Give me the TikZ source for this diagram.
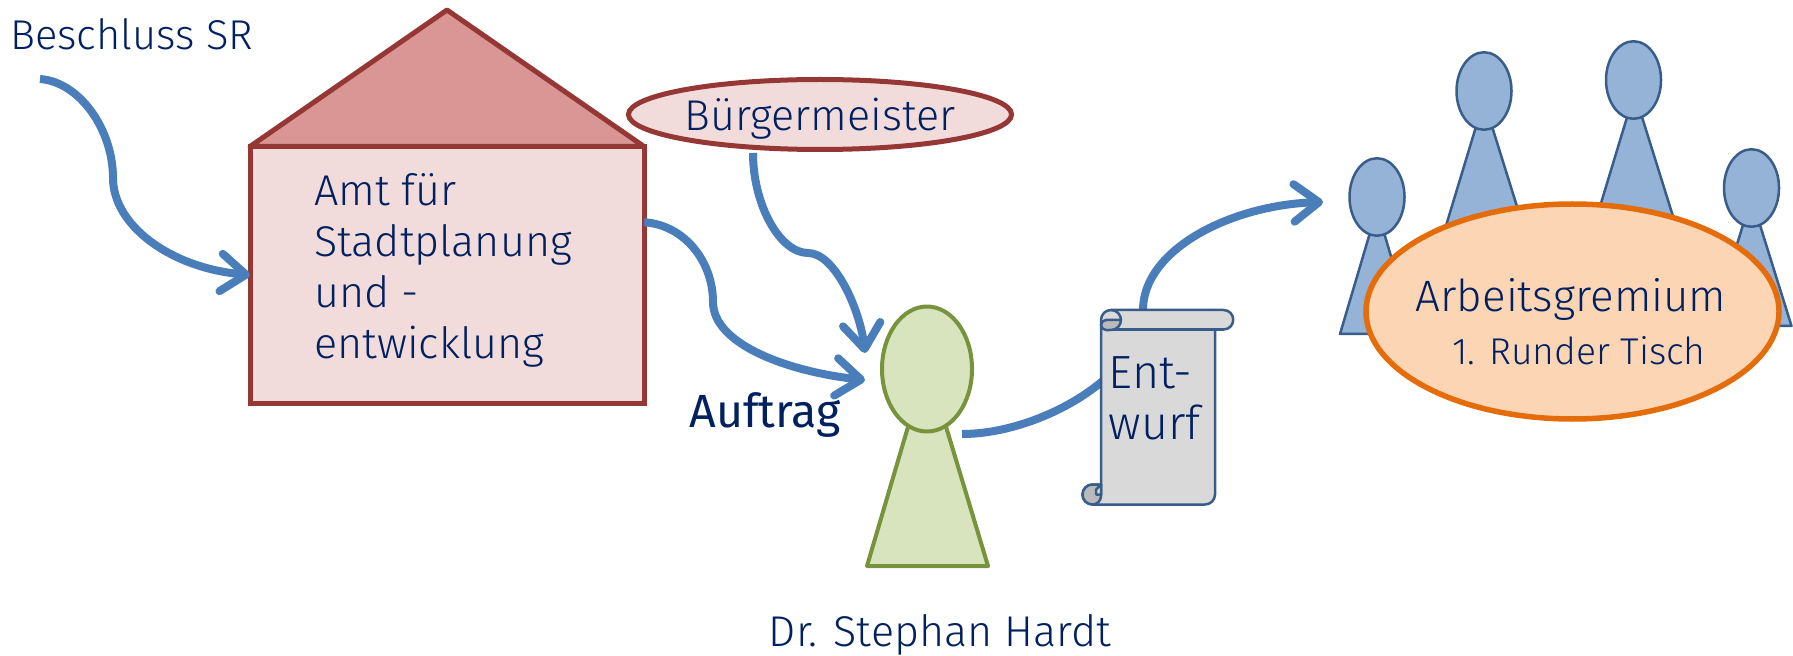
\documentclass[tikz,border=0pt]{standalone}
\usepackage{fontspec}
\setmainfont{Fira Sans Light}
\newfontfamily\auftragfont{Fira Sans}
\usetikzlibrary{arrows.meta,shapes.geometric}
\definecolor{navy}{HTML}{002060}
\definecolor{linie}{HTML}{4A7EBB}
\definecolor{rotrand}{HTML}{953735}
\definecolor{rotfill}{HTML}{F2DCDB}
\definecolor{dachfill}{HTML}{D99694}
\definecolor{gruenrand}{HTML}{77933C}
\definecolor{gruenfill}{HTML}{D7E4BD}
\definecolor{blaurand}{HTML}{385D8A}
\definecolor{blaufill}{HTML}{95B3D7}
\definecolor{orangerand}{HTML}{E46C0A}
\definecolor{orangefill}{HTML}{FCD5B5}
\begin{document}
\begin{tikzpicture}[
        txt/.style={text=navy, font=\fontsize{24.5}{29}\selectfont, inner sep=0pt},
        rot/.style={draw=rotrand, fill=rotfill, line width=0.1cm, inner sep=0pt, outer sep=0pt},
        gruen/.style={draw=gruenrand, fill=gruenfill, line width=0.08cm, line join=round},
        blau/.style={draw=blaurand, fill=blaufill, line width=0.05cm, line join=round},
        kopf/.style={ellipse, inner sep=0pt, minimum width=1.1cm, minimum height=1.55cm},
        rolle/.style={draw=blaurand, line width=0.05cm, line join=round},
        pfeil/.style={draw=linie, line width=0.16cm, -{Straight Barb[length=0.5cm, width=0.75cm, round]}},
        ]
        \useasboundingbox (0,0) rectangle (35.86,13.1);

        \coordinate (giebel) at (8.94,12.9);
        \coordinate (beschlussaus) at (0.8,11.52);
        \coordinate (buergeraus) at (15.06,10.04);
        \coordinate (auftragein) at (17.3,5.5);
        \coordinate (buergerein) at (17.3,6.04);
        \coordinate (hardtaus) at (19.24,4.42);
        \coordinate (tischein) at (26.46,9.06);

        \node (beschluss) at (0.2,12.1) [txt, anchor=base west, font=\fontsize{23.7}{29}\selectfont] {Beschluss SR};
        \node (amt) at (8.94,7.6) [rot, rectangle, minimum width=7.88cm, minimum height=5.14cm] {};
        \draw[rot, fill=dachfill, line join=round] (amt.north west) -- (giebel) -- (amt.north east) -- cycle;
        \node (amttext) at (8.86,7.69) [txt, align=left] {Amt für\\Stadtplanung\\und -\\entwicklung};
        \node (buerger) at (16.4,10.81) [rot, ellipse, minimum width=7.6cm, minimum height=1.4cm, txt, text depth=0pt] {Bürgermeister};
        \node (auftrag) at (13.78,4.56) [txt, anchor=base west, font=\auftragfont\fontsize{26.5}{29}\selectfont] {Auftrag};
        \node (hardt) at (18.8,0.18) [txt, anchor=base] {Dr. Stephan Hardt};

        \draw[gruen] (18.2,4.7) -- (17.34,1.78) -- (19.76,1.78) -- (18.88,4.7) -- cycle;
        \node (hardtkopf) at (18.54,5.72) [gruen, ellipse, inner sep=0pt, minimum width=1.8cm, minimum height=2.5cm] {};

        \draw[blau] (27.44,8.58) -- (26.8,6.42) -- (28.28,6.42) -- (27.64,8.58) -- cycle;
        \node (kopfa) at (27.54,9.16) [blau, kopf] {};
        \draw[blau] (29.56,10.7) -- (28.9,8.52) -- (30.48,8.52) -- (29.8,10.7) -- cycle;
        \node (kopfb) at (29.68,11.28) [blau, kopf] {};
        \draw[blau] (32.59,10.92) -- (31.93,8.74) -- (33.47,8.74) -- (32.79,10.92) -- cycle;
        \node (kopfc) at (32.67,11.5) [blau, kopf] {};
        \draw[blau] (34.91,8.76) -- (34.23,6.58) -- (35.83,6.58) -- (35.15,8.76) -- cycle;
        \node (kopfd) at (35.03,9.34) [blau, kopf] {};
        \node (gremium) at (31.45,6.87) [ellipse, draw=orangerand, fill=orangefill, line width=0.11cm, minimum width=8.26cm, minimum height=4.3cm, inner sep=0pt] {};
        \node (gremiumtext) at (31.42,6.66) [txt, align=center, font=\fontsize{25}{30}\selectfont] {Arbeitsgremium\\\hspace*{0.32cm}\fontsize{21.2}{26}\selectfont 1. Runder Tisch};

        \draw[pfeil] (beschlussaus) .. controls (1.6,11.46) and (2.26,10.5) .. (2.26,9.54) .. controls (2.26,8.6) and (3.4,7.74) .. (amt.west);
        \draw[pfeil] (amt.15) .. controls (13.7,8.6) and (14.26,7.86) .. (14.26,7.06) .. controls (14.26,6.2) and (15.8,5.66) .. (auftragein);
        \draw[pfeil] (buergeraus) .. controls (15.06,9) and (15.6,8.04) .. (16.16,8.04) .. controls (16.7,8.04) and (17.2,6.9) .. (buergerein);
        \draw[pfeil] (hardtaus) .. controls (20.8,4.42) and (22.86,5.6) .. (22.86,6.9) .. controls (22.86,8.1) and (24.6,9) .. (tischein);

        \draw[rolle, fill=black!15] (22.02,6.7) arc (180:90:0.2) -- (24.47,6.9) arc (90:-90:0.195) -- (24.3,6.51) -- (24.3,3.21) arc (0:-90:0.2) -- (21.85,3.01) arc (270:90:0.2) -- (22.02,3.41) -- cycle;
        \draw[rolle] (22.22,6.51) -- (24.47,6.51);
        \draw[rolle, fill=black!27] (22.42,6.7) -- (22.12,6.7) arc (90:270:0.1) -- (22.22,6.5) arc (-90:0:0.2) -- cycle;
        \draw[rolle] (22.22,6.9) arc (90:0:0.2);
        \draw[rolle, fill=black!27] (22.02,3.41) -- (21.85,3.41) arc (90:270:0.2) arc (-90:0:0.17) -- cycle;
        \draw[rolle, fill=black!15] (22.02,3.41) -- (22.02,3.21) -- (21.92,3.21) -- (21.92,3.31) -- cycle;
        \node (entwurf) at (22.17,5.13) [txt, anchor=west, align=left, font=\fontsize{26.5}{29}\selectfont] {Ent-\\wurf};
\end{tikzpicture}
\end{document}
